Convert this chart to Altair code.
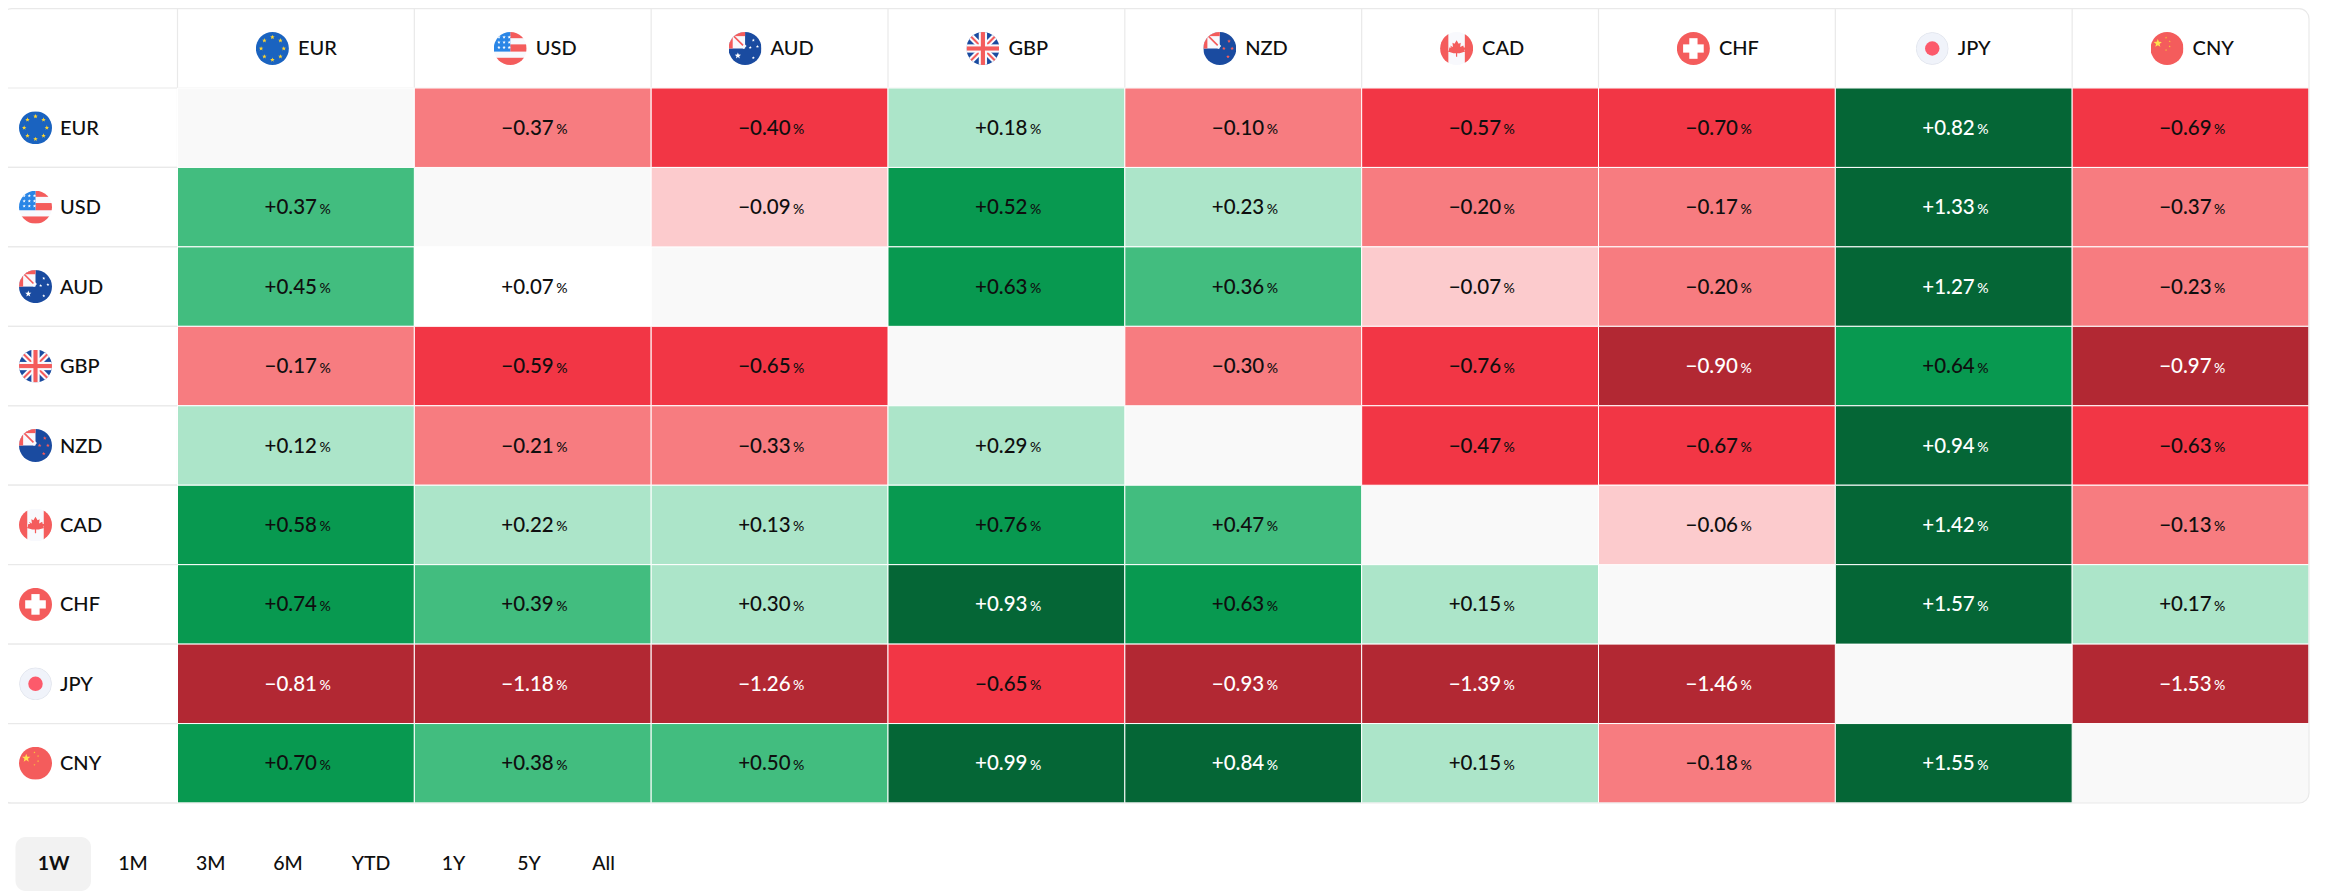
import base64, math
import altair as alt
import pandas as pd

currencies = ["EUR", "USD", "AUD", "GBP", "NZD", "CAD", "CHF", "JPY", "CNY"]
row_eur = [None, -0.37, -0.40, 0.18, -0.10, -0.57, -0.70, 0.82, -0.69]
row_usd = [0.37, None, -0.09, 0.52, 0.23, -0.20, -0.17, 1.33, -0.37]
row_aud = [0.45, 0.07, None, 0.63, 0.36, -0.07, -0.20, 1.27, -0.23]
row_gbp = [-0.17, -0.59, -0.65, None, -0.30, -0.76, -0.90, 0.64, -0.97]
row_nzd = [0.12, -0.21, -0.33, 0.29, None, -0.47, -0.67, 0.94, -0.63]
row_cad = [0.58, 0.22, 0.13, 0.76, 0.47, None, -0.06, 1.42, -0.13]
row_chf = [0.74, 0.39, 0.30, 0.93, 0.63, 0.15, None, 1.57, 0.17]
row_jpy = [-0.81, -1.18, -1.26, -0.65, -0.93, -1.39, -1.46, None, -1.53]
row_cny = [0.70, 0.38, 0.50, 0.99, 0.84, 0.15, -0.18, 1.55, None]
matrix = [row_eur, row_usd, row_aud, row_gbp, row_nzd, row_cad, row_chf, row_jpy, row_cny]
ranges = ["1W", "1M", "3M", "6M", "YTD", "1Y", "5Y", "All"]

# ---- layout / style (page pixels are turned into chart pixels below)
FONT = "Lato"
WEIGHT = 500
W, H = 2131.5, 715
LEFT, TOP = 169.5, 80
ORG_X, ORG_Y = 8 + LEFT, 8 + TOP
BAND = W / 9
BORDER = "#e9e9e9"
INK = "#0f0f0f"
range_centers = [53.6, 133, 210.7, 288, 371, 453.6, 529, 603.6]
label_widths = {"EUR": 38, "USD": 36, "AUD": 40, "GBP": 38, "NZD": 38, "CAD": 38, "CHF": 38, "JPY": 34, "CNY": 38}
thresholds = [-0.8, -0.38, -0.095, 0, 0.1, 0.33, 0.51, 0.8]
palette = ["#b22833", "#f23645", "#f77c80", "#fccbcd", "#ffffff", "#ace5c9", "#42bd7f", "#089950", "#056636"]


def star(cx, cy, r, fill, rot=-90):
    pts = []
    for i in range(10):
        rad = r if i % 2 == 0 else r * 0.42
        a = math.radians(rot + 36 * i)
        pts.append(f"{cx + rad * math.cos(a):.2f},{cy + rad * math.sin(a):.2f}")
    return f'<polygon points="{" ".join(pts)}" fill="{fill}"/>'


RED = "#f45c5c"
NAVY = "#1a4ba0"
PALE = "#f8f9fd"
UNION_SMALL = (
    f'<rect x="0" y="0" width="16" height="16" fill="{PALE}"/>'
    f'<path d="M4 3 L16 15" stroke="{PALE}" stroke-width="4"/>'
    f'<path d="M5 4 L14 13" stroke="{RED}" stroke-width="1.6"/>'
    f'<rect x="0" y="0" width="16" height="4" fill="{RED}"/>'
    f'<rect x="0" y="0" width="4" height="16" fill="{RED}"/>'
)
flag_bodies = {
    "EUR": '<rect width="32" height="32" fill="#1a63c0"/>' + "".join(
        star(16 + 11 * math.cos(math.radians(45 * i)), 16 + 11 * math.sin(math.radians(45 * i)), 2.3, "#ffd52e")
        for i in range(8)),
    "USD": f'<rect width="32" height="32" fill="{PALE}"/>'
           f'<rect x="16" y="0" width="16" height="6" fill="{RED}"/>'
           f'<rect x="16" y="12" width="16" height="7" fill="{RED}"/>'
           f'<rect y="25" width="32" height="7" fill="{RED}"/>'
           '<rect width="16" height="19" fill="#2a86e6"/>' + "".join(
               star(x, y, 1.7, "#ffffff") for x in (5, 10, 15) for y in (5, 10, 15)),
    "AUD": f'<rect width="32" height="32" fill="{NAVY}"/>' + UNION_SMALL +
           star(9, 23, 3.2, "#ffffff") + star(24, 8, 1.6, "#ffffff") + star(28, 14, 1.6, "#ffffff") +
           star(21, 15, 1.6, "#ffffff") + star(24, 25, 1.6, "#ffffff"),
    "GBP": f'<rect width="32" height="32" fill="{NAVY}"/>'
           f'<path d="M0 0 L32 32 M32 0 L0 32" stroke="{PALE}" stroke-width="6"/>'
           f'<path d="M0 0 L32 32 M32 0 L0 32" stroke="{RED}" stroke-width="2"/>'
           f'<rect x="12" width="8" height="32" fill="{PALE}"/><rect y="12" width="32" height="8" fill="{PALE}"/>'
           f'<rect x="14" width="4" height="32" fill="{RED}"/><rect y="14" width="32" height="4" fill="{RED}"/>',
    "NZD": f'<rect width="32" height="32" fill="{NAVY}"/>' + UNION_SMALL +
           star(25, 9, 1.9, RED) + star(20, 16, 1.9, RED) + star(28, 16, 1.9, RED) + star(24, 24, 1.9, RED),
    "CAD": f'<rect width="32" height="32" fill="{PALE}"/>'
           f'<rect width="8" height="32" fill="{RED}"/><rect x="24" width="8" height="32" fill="{RED}"/>'
           f'<path d="M16 8 L18 11.5 L20 10.5 L19.5 14.5 L22.5 13 L23 15 L25 15 L23.5 18 L24.5 19 L19 20.5 L16.6 20.5 L16.6 24 '
           f'L15.4 24 L15.4 20.5 L13 20.5 L7.5 19 L8.5 18 L9 15 L9 15 L11 15 L9.5 13 L12.5 14.5 L12 10.5 L14 11.5 Z" fill="{RED}"/>',
    "CHF": f'<rect width="32" height="32" fill="{RED}"/>'
           '<rect x="12" y="6" width="8" height="20" fill="#fff"/><rect x="6" y="12" width="20" height="8" fill="#fff"/>',
    "JPY": '<circle cx="16" cy="16" r="15.6" fill="#f0f3fa" stroke="#e0e3eb" stroke-width="0.8"/>'
           '<circle cx="16" cy="16" r="7" fill="#fc5a6b"/>',
    "CNY": f'<rect width="32" height="32" fill="{RED}"/>' + star(7, 11, 4.2, "#ffe14d") +
           star(15, 5.5, 1.1, "#f8c53a") + star(18.5, 9, 1.1, "#f8c53a") + star(18.5, 14, 1.1, "#f8c53a") +
           star(15, 17.5, 1.1, "#f8c53a"),
}


def flag_uri(code):
    svg = ('<svg xmlns="http://www.w3.org/2000/svg" viewBox="0 0 32 32" width="66" height="66">'
           '<clipPath id="c"><circle cx="16" cy="16" r="16"/></clipPath>'
           f'<g clip-path="url(#c)">{flag_bodies[code]}</g></svg>')
    return "data:image/svg+xml;base64," + base64.b64encode(svg.encode()).decode()


# ---- tables
cells = []
for r, row in zip(currencies, matrix):
    for c, v in zip(currencies, row):
        cells.append({"row": r, "col": c, "value": v,
                      "txt": None if v is None else ("+" if v >= 0 else "\u2212") + f"{abs(v):.2f}"})
cells = pd.DataFrame(cells)
heat = cells[cells.value.notna()]
diag = cells[cells.value.isna()]
heads = pd.DataFrame({
    "cur": currencies,
    "flag": [flag_uri(c) for c in currencies],
    "icon_off": [BAND / 2 - (42 + label_widths[c]) / 2 + 16.5 for c in currencies],
    "text_off": [BAND / 2 - (42 + label_widths[c]) / 2 + 42 for c in currencies],
})
one = pd.DataFrame({"a": [0]})

band_x = alt.Scale(domain=currencies, paddingInner=0, paddingOuter=0)
band_y = alt.Scale(domain=currencies, paddingInner=0, paddingOuter=0)
X = lambda f, **kw: alt.X(f"{f}:N", scale=band_x, axis=None, title=None, **kw)
Y = lambda f: alt.Y(f"{f}:N", scale=band_y, axis=None, title=None)

layers = []

# label column row rectangles and header column separators
layers.append(alt.Chart(heads).mark_rect(fill="#ffffff", stroke=BORDER, strokeWidth=1.2).encode(
    x=alt.value(-176), x2=alt.value(0), y=Y("cur")))
layers.append(alt.Chart(heads).mark_rule(stroke=BORDER, strokeWidth=1.2).encode(
    x=X("cur", bandPosition=0), y=alt.value(-TOP), y2=alt.value(0)))
layers.append(alt.Chart(one).mark_rule(stroke=BORDER, strokeWidth=1.2).encode(
    x=alt.value(0), x2=alt.value(W), y=alt.value(0)))

# diagonal
layers.append(alt.Chart(diag[diag.col != "CNY"]).mark_rect(fill="#f9f9f9", stroke="#ffffff", strokeWidth=1).encode(
    x=X("col"), y=Y("row")))
layers.append(alt.Chart(diag[diag.col == "CNY"]).mark_rect(
    fill="#f9f9f9", cornerRadiusBottomRight=10).encode(
    x=X("col"), y=Y("row")))

# heat cells
layers.append(alt.Chart(heat).mark_rect(stroke="#ffffff", strokeWidth=1).encode(
    x=X("col"), y=Y("row"),
    color=alt.Color("value:Q", legend=None,
                    scale=alt.Scale(type="threshold", domain=thresholds, range=palette))))

# outer frame
layers.append(alt.Chart(one).mark_rect(
    fillOpacity=0, stroke=BORDER, strokeWidth=1.2, cornerRadius=10).encode(
    x=alt.value(-176), x2=alt.value(W), y=alt.value(-TOP + 0.7), y2=alt.value(H)))

# cell text
txt_color = alt.condition("abs(datum.value) >= 0.8", alt.value("#ffffff"), alt.value(INK))
layers.append(alt.Chart(heat).mark_text(font=FONT, fontWeight=WEIGHT, fontSize=20.5, align="right", baseline="middle", dx=21, dy=1).encode(
    x=X("col"), y=Y("row"), text="txt:N", color=txt_color))
layers.append(alt.Chart(heat).mark_text(font=FONT, fontWeight=WEIGHT, fontSize=14, align="left", baseline="middle", dx=23.5, dy=2.5).encode(
    x=X("col"), y=Y("row"), text=alt.value("%"), color=txt_color))

# header flags and labels
layers.append(alt.Chart(heads).mark_image(width=33, height=33).encode(
    x=X("cur"), xOffset=alt.XOffset("icon_off:Q", scale=None), y=alt.value(-39.5), url="flag:N"))
layers.append(alt.Chart(heads).mark_text(font=FONT, fontWeight=WEIGHT, fontSize=20, align="left", baseline="middle", color=INK, dy=1).encode(
    x=X("cur"), xOffset=alt.XOffset("text_off:Q", scale=None), y=alt.value(-40), text="cur:N"))

# row flags and labels
layers.append(alt.Chart(heads).mark_image(width=33, height=33).encode(
    x=alt.value(35.5 - ORG_X), y=Y("cur"), url="flag:N"))
layers.append(alt.Chart(heads).mark_text(font=FONT, fontWeight=WEIGHT, fontSize=20, align="left", baseline="middle", color=INK, dy=1).encode(
    x=alt.value(60 - ORG_X), y=Y("cur"), text="cur:N"))

# range selector
layers.append(alt.Chart(one).mark_rect(fill="#f2f2f2", cornerRadius=10).encode(
    x=alt.value(15.5 - ORG_X), x2=alt.value(91 - ORG_X), y=alt.value(837 - ORG_Y), y2=alt.value(891 - ORG_Y)))
for i, (lab, cx) in enumerate(zip(ranges, range_centers)):
    layers.append(alt.Chart(one).mark_text(
        font=FONT, fontSize=19.5, align="center", baseline="middle", color=INK,
        fontWeight=700 if i == 0 else WEIGHT).encode(
        x=alt.value(cx - ORG_X), y=alt.value(864 - ORG_Y), text=alt.value(lab)))

chart = alt.layer(*layers).properties(
    width=W, height=H,
    autosize=alt.AutoSizeParams(type="none"),
    padding={"left": LEFT, "top": TOP, "right": 2312 - LEFT - W, "bottom": 89},
    background="#ffffff",
).configure_view(stroke=None)

chart.save("out.html", embed_options={"renderer": "svg", "actions": False})
